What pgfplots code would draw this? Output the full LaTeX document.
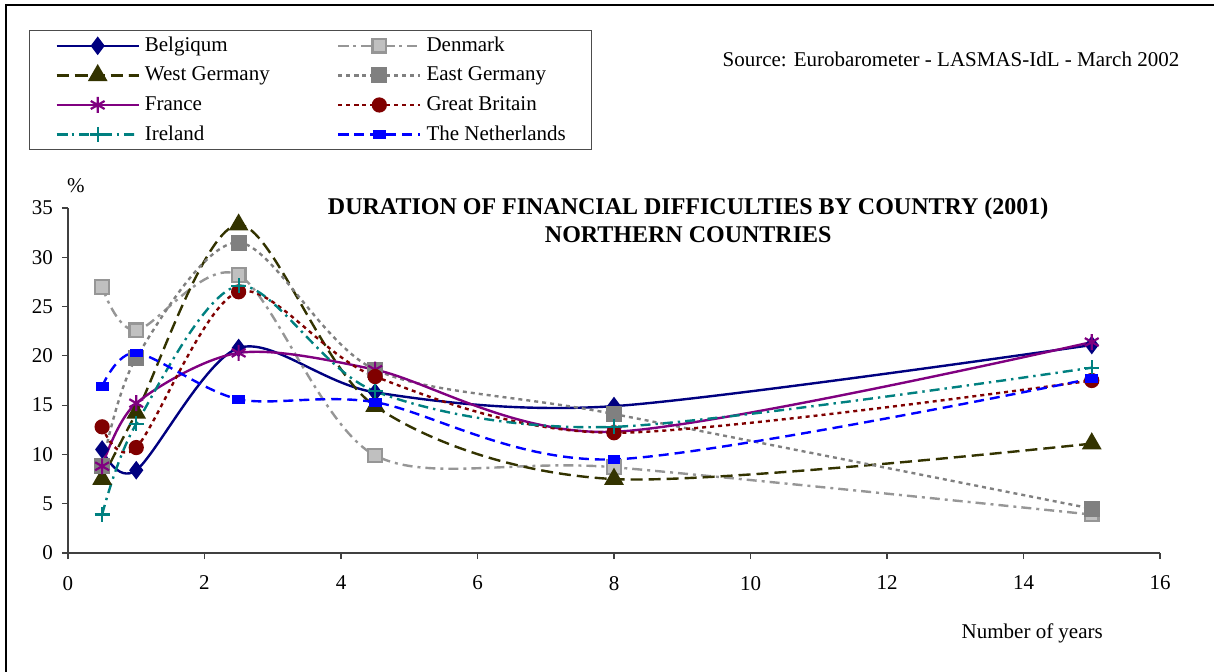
\documentclass[border=0pt]{standalone}
\usepackage{pgfplots}
\pgfplotsset{compat=1.18}
\usepackage{fontspec}
\setmainfont{Liberation Serif}
\definecolor{cBel}{RGB}{0,0,128}
\definecolor{cWG}{RGB}{51,51,0}
\definecolor{cFr}{RGB}{128,0,128}
\definecolor{cIr}{RGB}{0,128,128}
\definecolor{cDkL}{RGB}{150,150,150}
\definecolor{cDkF}{RGB}{192,192,192}
\definecolor{cEG}{RGB}{128,128,128}
\definecolor{cGB}{RGB}{128,0,0}
\definecolor{cNL}{RGB}{0,0,255}
\begin{document}
\begin{tikzpicture}
\path[use as bounding box] (-34pt,-59pt) rectangle (573pt,276.5pt);
\draw[line width=1.1pt] (-31pt,-62pt) -- (-31pt,274pt) -- (580pt,274pt);
\begin{axis}[
  scale only axis, width=546pt, height=172.5pt,
  xmin=0, xmax=16, ymin=0, ymax=35,
  xtick={0,2,...,16}, ytick={0,5,...,35},
  axis lines*=left,
  axis line style={black!75, line width=0.6pt},
  tick style={black!75, line width=0.6pt},
  tick align=outside, major tick length=3pt,
  /pgf/number format/assume math mode=true,
  ticklabel style={font=\fontsize{10.5}{12}\selectfont},
  xticklabel shift=5pt, yticklabel shift=1pt,
  clip=false,
  every axis plot/.append style={smooth, tension=0.5, line width=1.2pt},
  legend columns=2,
  legend cell align=left,
  legend image code/.code={%
    \draw[mark repeat=2,mark phase=2] plot coordinates {(0pt,0pt) (20.5pt,0pt) (41pt,0pt)};},
  legend style={at={(axis description cs:-0.0357,1.516)}, anchor=north west,
    draw=black!70, line width=0.5pt, inner xsep=13pt, inner ysep=2.4pt,
    font=\fontsize{10.5}{12}\selectfont,
    nodes={inner sep=0pt, text height=8pt, text depth=2.5pt, font=\fontsize{10.5}{12}\selectfont},
    row sep=4.3pt,
    /tikz/every odd column/.append style={column sep=2.5pt},
    /tikz/every even column/.append style={column sep=33.7pt}},
]
\addplot[cBel, mark=diamond*, mark size=3.7pt, mark options={solid, fill=cBel}]
  coordinates {(0.5,10.5) (1,8.4) (2.5,20.8) (4.5,16.3) (8,14.9) (15,21.1)};
\addlegendentry{Belgiqum}
\addplot[cDkL, dash pattern=on 5pt off 2.5pt on 1.5pt off 2.5pt, mark=square*, mark size=3.4pt, mark options={solid, fill=cDkF, draw=cDkL, line width=1.1pt}]
  coordinates {(0.5,27.0) (1,22.6) (2.5,28.2) (4.5,9.9) (8,8.7) (15,3.9)};
\addlegendentry{Denmark}
\addplot[cWG, dash pattern=on 6pt off 3pt, mark=triangle*, mark size=4.5pt, mark options={solid, fill=cWG}]
  coordinates {(0.5,7.5) (1,14.2) (2.5,33.3) (4.5,14.9) (8,7.5) (15,11.1)};
\addlegendentry{West Germany}
\addplot[cEG, dash pattern=on 2pt off 2pt, mark=square*, mark size=3.4pt, mark options={solid, fill=cEG}]
  coordinates {(0.5,8.8) (1,19.8) (2.5,31.5) (4.5,18.6) (8,14.1) (15,4.5)};
\addlegendentry{East Germany}
\addplot[cFr, mark=asterisk, mark size=4pt, mark options={solid, line width=1.1pt}]
  coordinates {(0.5,8.8) (1,15.2) (2.5,20.3) (4.5,18.6) (8,12.3) (15,21.4)};
\addlegendentry{France}
\addplot[cGB, dash pattern=on 2pt off 2pt, mark=*, mark size=3.2pt, mark options={solid, fill=cGB}]
  coordinates {(0.5,12.8) (1,10.7) (2.5,26.5) (4.5,17.9) (8,12.2) (15,17.5)};
\addlegendentry{Great Britain}
\addplot[cIr, dash pattern=on 5pt off 2.5pt on 1.2pt off 2.5pt, mark=+, mark size=3.8pt, mark options={solid, line width=1.1pt}]
  coordinates {(0.5,3.9) (1,13.1) (2.5,27.1) (4.5,16.4) (8,12.8) (15,18.8)};
\addlegendentry{Ireland}
\addplot[cNL, dash pattern=on 5pt off 3pt, mark=square*, mark size=2pt, mark options={solid, fill=cNL, xscale=1.3, yscale=0.8}]
  coordinates {(0.5,16.9) (1,20.3) (2.5,15.6) (4.5,15.3) (8,9.5) (15,17.7)};
\addlegendentry{The Netherlands}
\node[anchor=base, font=\bfseries\fontsize{12}{14}\selectfont] at (axis description cs:0.568,0.9826) {DURATION OF FINANCIAL DIFFICULTIES BY COUNTRY (2001)};
\node[anchor=base, font=\bfseries\fontsize{12}{14}\selectfont] at (axis description cs:0.568,0.8986) {NORTHERN COUNTRIES};
\node[anchor=base east, font=\fontsize{10.5}{12}\selectfont, inner sep=0pt] at (axis description cs:1.018,1.4116) {Source: Eurobarometer - LASMAS-IdL - March 2002};
\node[anchor=base, font=\fontsize{10.5}{12}\selectfont, inner sep=0pt] at (axis description cs:0.0073,1.0464) {\%};
\node[anchor=base, font=\fontsize{10.5}{12}\selectfont, inner sep=0pt] at (axis description cs:0.883,-0.249) {Number of years};
\end{axis}
\end{tikzpicture}
\end{document}
